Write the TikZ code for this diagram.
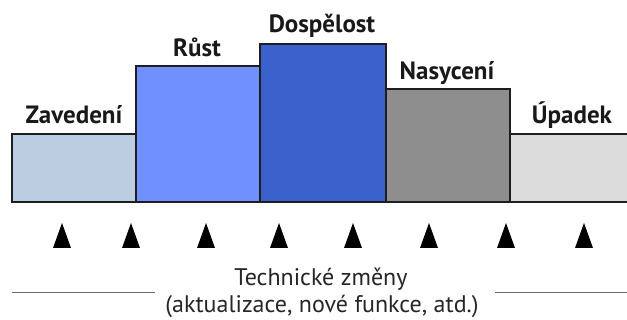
\documentclass[tikz,border=0pt]{standalone}
\usepackage{fontspec}
\setmainfont{PT Sans}
\definecolor{phaseA}{HTML}{BCCDE2}
\definecolor{phaseB}{HTML}{7090FF}
\definecolor{phaseC}{HTML}{3B62CC}
\definecolor{phaseD}{HTML}{8E8E8E}
\definecolor{phaseE}{HTML}{DCDCDC}
\definecolor{edge}{HTML}{1E1E1E}
\definecolor{rule}{HTML}{6A6A6A}
\begin{document}
\begin{tikzpicture}[x=1pt,y=-1pt,
  phasebox/.style={draw=edge,line width=1.3pt},
  phaselabel/.style={anchor=base,inner sep=0pt,font=\fontsize{25}{28}\selectfont\bfseries,text=black!90},
  tick/.style={fill=black,draw=none},
  caption/.style={anchor=base,inner sep=0pt,font=\fontsize{24}{28}\selectfont,text=black!85},
  sideline/.style={draw=rule,line width=1pt}]
  \clip (0,0) rectangle (627,320);
  \fill[white] (0,0) rectangle (627,320);
  % product life-cycle phases
  \draw[phasebox,fill=phaseA] (12,202) rectangle (136,134);
  \draw[phasebox,fill=phaseB] (136,202) rectangle (260,66);
  \draw[phasebox,fill=phaseC] (260,202) rectangle (386,44);
  \draw[phasebox,fill=phaseD] (386,202) rectangle (510,89);
  \draw[phasebox,fill=phaseE] (510,202) rectangle (640,134);
  \node[phaselabel] (zav) at (74,124) {Zavedení};
  \node[phaselabel] (rust) at (197,57) {Růst};
  \node[phaselabel] (dosp) at (322,33) {Dospělost};
  \node[phaselabel] (nas) at (447,80) {Nasycení};
  \node[phaselabel] (upa) at (572,124) {Úpadek};
  % technical change markers
  \foreach \x in {62,131,206,279,353,429,506,584}
    \fill[tick] (\x-9,248) -- (\x,223) -- (\x+9,248) -- cycle;
  % caption with side rules
  \node[caption] (cap1) at (321,286) {Technické změny};
  \node[caption] (cap2) at (322,313) {(aktualizace, nové funkce, atd.)};
  \coordinate (lstart) at (12,293);
  \coordinate (rend) at (627,293);
  \draw[sideline] (lstart) -- (155,293);
  \draw[sideline] (495,293) -- (rend);
\end{tikzpicture}
\end{document}
